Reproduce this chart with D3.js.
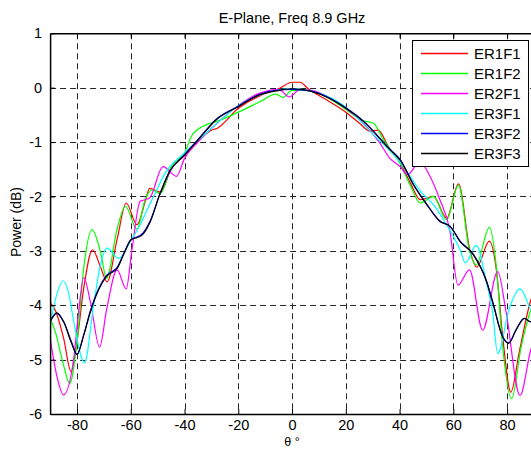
<!DOCTYPE html>
<html><head><meta charset="utf-8">
<script src="https://cdn.jsdelivr.net/npm/d3@7"></script>
<style>
html,body{margin:0;padding:0;background:#fff;overflow:hidden}
text{font-family:"Liberation Sans",Arial,sans-serif;fill:#000}
</style></head><body>
<svg id="c" width="531" height="450"></svg>
<script>
const titleText = "E-Plane, Freq 8.9 GHz";
const xLabelText = "θ °";
const yLabelText = "Power (dB)";
const xTicks = [-80,-60,-40,-20,0,20,40,60,80];
const yTicks = [1,0,-1,-2,-3,-4,-5,-6];
const seriesNames = ["ER1F1","ER1F2","ER2F1","ER3F1","ER3F2","ER3F3"];
const seriesColors = ["#ff0000","#00ff00","#ff00ff","#00ffff","#0000ff","#000000"];

const er1f1Theta = [-90,-88,-85,-82.2,-80,-77.5,-74.2,-71.3,-68.8,-65,-61.7,-57.7,-54.6,-53,-49,-45,-40,-35,-30,-28,-20,-12,-5,0,3,6,12,20,25,29,32,36,40,44,47.7,52.6,57.5,61.9,66.2,68.7,73.4,76,78.3,81.4,84.5,88.6,92];
const er1f1Power = [-3.95,-4.1,-4.6,-5.22,-4.67,-3.69,-2.98,-3.29,-3.57,-2.77,-2.12,-2.52,-2.09,-1.85,-1.92,-1.5,-1.25,-0.98,-0.78,-0.75,-0.38,-0.15,-0.02,0.1,0.1,-0.02,-0.2,-0.45,-0.65,-0.8,-0.78,-1.1,-1.36,-1.75,-2.06,-2.0,-2.4,-1.77,-3.0,-3.3,-2.82,-3.35,-4.55,-5.6,-4.86,-3.94,-3.5];

const er1f2Theta = [-90,-88,-85,-82.7,-80,-77.5,-74.4,-71.3,-69,-65,-62,-57.7,-54.6,-52,-49,-45,-40,-37,-31.3,-28,-20,-12,-6,-3.4,0,5,12,20,26,30.2,34,40,44,47.7,52.6,57.5,61.9,66,68.5,73.4,76,78.3,81.7,85.1,88.2,92];
const er1f2Power = [-4.24,-4.5,-5.1,-5.44,-4.67,-3.32,-2.61,-3.01,-3.5,-2.58,-2.18,-2.6,-2.05,-1.88,-1.95,-1.45,-1.2,-0.86,-0.67,-0.62,-0.45,-0.26,-0.12,-0.18,-0.05,-0.05,-0.15,-0.4,-0.6,-0.65,-0.96,-1.38,-1.8,-2.12,-2.0,-2.43,-1.79,-3.0,-3.26,-2.57,-3.3,-4.74,-5.72,-4.8,-4.18,-3.8];

const er2f1Theta = [-90,-87.5,-85,-81.2,-79.4,-77.5,-75,-71.6,-68.9,-65.1,-61.7,-59.6,-56.5,-53,-48,-43,-40,-35,-30,-20,-12,-5,-1,3,8,15,20,27,32.7,36.4,40.2,43,47.5,51,55,58.6,61.7,66,70.9,76.5,79.6,84.8,88.6,92];
const er2f1Power = [-4.61,-5.3,-5.65,-4.98,-4.12,-3.49,-3.94,-4.77,-4.06,-3.35,-3.7,-3.0,-2.09,-2.03,-1.45,-1.63,-1.3,-1.0,-0.75,-0.33,-0.1,-0.03,-0.17,-0.03,-0.06,-0.22,-0.38,-0.68,-1.02,-1.3,-1.45,-1.6,-1.36,-1.6,-2.06,-2.6,-3.63,-3.35,-4.46,-3.38,-4.12,-5.66,-4.86,-4.3];

const er3f1Theta = [-90,-87.5,-85.2,-83,-81.2,-77.2,-73.8,-71.3,-68.8,-64.5,-60.2,-56.5,-53,-51.5,-46.8,-40,-30,-20,-10,0,10,20,30,40,42.7,47.7,52.6,57.5,62.5,64.5,68.5,72.2,74.6,76.5,80.8,84.8,88.6,92];
const er3f1Power = [-4.37,-3.8,-3.55,-3.8,-4.3,-5.06,-4.0,-3.26,-2.95,-3.14,-2.83,-2.52,-2.15,-2.0,-1.54,-1.2,-0.75,-0.33,-0.1,-0.02,-0.1,-0.36,-0.85,-1.36,-1.54,-1.9,-2.15,-2.52,-2.98,-3.22,-2.9,-3.56,-4.12,-4.89,-4.06,-3.7,-4.06,-4.4];

const er3f2Theta = [-90,-87.5,-85,-82,-80,-77.5,-75,-72,-69,-65,-62.5,-60,-56,-52.7,-49.3,-45.6,-40,-34.4,-28.2,-20,-12,-6,0,6.6,14,20,26.5,36.4,40.2,45.2,50.1,55,58.8,62.5,67.4,72.3,74.6,78.3,80.6,83.3,86.4,88.5,92];
const er3f2Power = [-4.3,-4.15,-4.3,-4.68,-4.9,-4.55,-4.1,-3.7,-3.45,-3.3,-3.04,-2.8,-2.7,-2.44,-1.98,-1.55,-1.23,-0.92,-0.58,-0.34,-0.12,-0.05,-0.03,-0.06,-0.19,-0.37,-0.61,-1.13,-1.32,-1.78,-2.14,-2.45,-2.55,-2.82,-3.06,-3.55,-3.93,-4.57,-4.69,-4.45,-4.24,-4.3,-4.3];

const er3f3Theta = [-90,-87.5,-85,-82,-80,-77.5,-75,-72,-69,-65,-62.5,-60,-56,-52.7,-49.3,-45.6,-40,-34.4,-28.2,-20,-12,-6,0,6.6,14,20,26.5,36.4,40.2,45.2,50.1,55,58.8,62.5,67.4,72.3,74.6,78.3,80.6,83.3,86.4,88.5,92];
const er3f3Power = [-4.3,-4.14,-4.3,-4.7,-4.91,-4.55,-4.12,-3.72,-3.47,-3.32,-3.05,-2.8,-2.72,-2.46,-1.97,-1.54,-1.24,-0.93,-0.59,-0.35,-0.13,-0.06,-0.02,-0.06,-0.2,-0.38,-0.62,-1.14,-1.33,-1.79,-2.15,-2.46,-2.55,-2.83,-3.07,-3.56,-3.94,-4.58,-4.7,-4.46,-4.24,-4.3,-4.3];

const thetas = [er1f1Theta,er1f2Theta,er2f1Theta,er3f1Theta,er3f2Theta,er3f3Theta];
const powers = [er1f1Power,er1f2Power,er2f1Power,er3f1Power,er3f2Power,er3f3Power];

const svg = d3.select("#c");
const L = 50.1, R = 534, T = 33.3, B = 414;
const x = d3.scaleLinear().domain([-90,90]).range([L,R]);
const y = d3.scaleLinear().domain([-6,1]).range([B,T]);

svg.append("defs").append("clipPath").attr("id","clip")
  .append("rect").attr("x",L).attr("y",T).attr("width",R-L).attr("height",B-T);

// grid
const grid = svg.append("g").attr("stroke","#000").attr("stroke-width",1).attr("stroke-dasharray","6,4").attr("opacity",0.85);
xTicks.forEach(t=>grid.append("line").attr("x1",Math.round(x(t))+0.5).attr("x2",Math.round(x(t))+0.5).attr("y1",T).attr("y2",B));
yTicks.filter(t=>t>-6&&t<1).forEach(t=>grid.append("line").attr("x1",L).attr("x2",R).attr("y1",Math.round(y(t))+0.5).attr("y2",Math.round(y(t))+0.5));

// lines
const line = d3.line().curve(d3.curveMonotoneX).x(d=>x(d[0])).y(d=>y(d[1]));
const lg = svg.append("g").attr("clip-path","url(#clip)");
seriesNames.forEach((n,i)=>{
  const pts = thetas[i].map((t,j)=>[t,powers[i][j]]);
  lg.append("path").attr("d",line(pts)).attr("fill","none").style("stroke",seriesColors[i]).attr("stroke-width",1.2);
});

// axes
const fmt = d=>String(d);
const xAxisB = d3.axisBottom(x).tickValues(xTicks).tickFormat(fmt).tickSizeInner(-5).tickSizeOuter(0).tickPadding(6);
const xAxisT = d3.axisTop(x).tickValues(xTicks).tickSizeInner(-5).tickSizeOuter(0).tickFormat("");
const yAxisL = d3.axisLeft(y).tickValues(yTicks).tickFormat(fmt).tickSizeInner(-5).tickSizeOuter(0).tickPadding(8);
function style(g){g.select(".domain").attr("stroke","#000").attr("stroke-width",1.5);g.selectAll(".tick line").attr("stroke","#000");g.selectAll("text").attr("font-size",14.5).attr("font-family","Liberation Sans");}
svg.append("g").attr("transform",`translate(0,${B})`).call(xAxisB).call(style);
svg.append("g").attr("transform",`translate(0,${T})`).call(xAxisT).call(style);
svg.append("g").attr("transform",`translate(${L},0)`).call(yAxisL).call(style);

// title & labels
svg.append("text").attr("x",(L+R)/2).attr("y",23).attr("text-anchor","middle").attr("font-size",14.5).text(titleText);
svg.append("text").attr("x",(L+R)/2).attr("y",446).attr("text-anchor","middle").attr("font-size",12.5).text(xLabelText);
svg.append("text").attr("transform","translate(21,222) rotate(-90)").attr("text-anchor","middle").attr("font-size",14).text(yLabelText);

// legend
const leg = svg.append("g");
leg.append("rect").attr("x",412.5).attr("y",40.5).attr("width",116).attr("height",126).attr("fill","#fff").attr("stroke","#000").attr("stroke-width",1);
seriesNames.forEach((n,i)=>{
  const yy = 53.5 + i*20;
  leg.append("line").attr("x1",421).attr("x2",468).attr("y1",yy).attr("y2",yy).style("stroke",seriesColors[i]).style("stroke-width","1.6px");
  leg.append("text").attr("x",474).attr("y",yy+5.5).attr("font-size",15).text(n);
});
</script></body></html>
